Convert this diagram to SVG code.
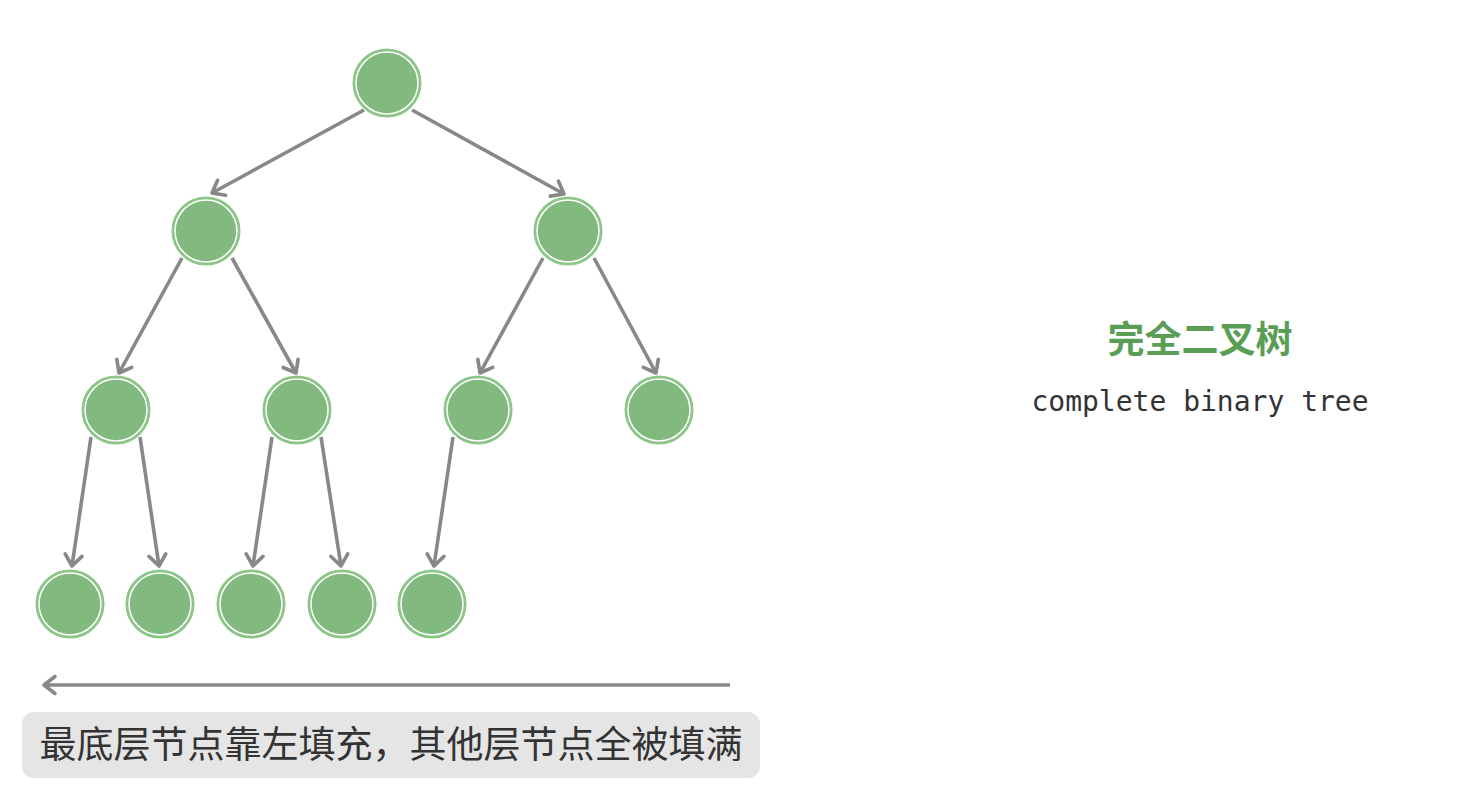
<svg xmlns="http://www.w3.org/2000/svg" width="1470" height="799" viewBox="0 0 1470 799">
<style>
.n{fill:#82b97e;stroke:#8cc887;stroke-width:2}
.r{fill:none;stroke:#ffffff;stroke-width:1.6}
.e{stroke:#888888;stroke-width:3.6;fill:none;marker-end:url(#ah)}
</style>
<defs>
<marker id="ah" markerWidth="8" markerHeight="8" refX="6" refY="4" orient="auto" markerUnits="userSpaceOnUse" viewBox="0 0 8 8" overflow="visible">
<path d="M-5,-4.5 L6,4 L-5,12.5" fill="none" stroke="#888888" stroke-width="3.6" stroke-linecap="round" stroke-linejoin="round"/>
</marker>
</defs>
<rect width="1470" height="799" fill="#ffffff"/>
<g id="connectors">
<line class="e" x1="364" y1="110" x2="212" y2="193"/>
<line class="e" x1="412" y1="110" x2="564" y2="194"/>
<line class="e" x1="182" y1="258" x2="119" y2="373"/>
<line class="e" x1="232" y1="258" x2="296" y2="373"/>
<line class="e" x1="543" y1="258" x2="480" y2="373"/>
<line class="e" x1="594" y1="258" x2="656" y2="373"/>
<line class="e" x1="91" y1="437" x2="72" y2="566"/>
<line class="e" x1="140" y1="437" x2="159" y2="566"/>
<line class="e" x1="272" y1="437" x2="253" y2="566"/>
<line class="e" x1="321" y1="437" x2="341" y2="566"/>
<line class="e" x1="453" y1="437" x2="434" y2="566"/>
<line class="e" x1="730" y1="685" x2="44" y2="685"/>
</g>
<g id="n0"><circle class="n" cx="387" cy="83" r="33.5"/><circle class="r" cx="387" cy="83" r="31"/></g>
<g id="n1"><circle class="n" cx="206" cy="231" r="33.5"/><circle class="r" cx="206" cy="231" r="31"/></g>
<g id="n2"><circle class="n" cx="568" cy="231" r="33.5"/><circle class="r" cx="568" cy="231" r="31"/></g>
<g id="n3"><circle class="n" cx="116" cy="410" r="33.5"/><circle class="r" cx="116" cy="410" r="31"/></g>
<g id="n4"><circle class="n" cx="297" cy="410" r="33.5"/><circle class="r" cx="297" cy="410" r="31"/></g>
<g id="n5"><circle class="n" cx="478" cy="410" r="33.5"/><circle class="r" cx="478" cy="410" r="31"/></g>
<g id="n6"><circle class="n" cx="659" cy="410" r="33.5"/><circle class="r" cx="659" cy="410" r="31"/></g>
<g id="n7"><circle class="n" cx="70" cy="604" r="33.5"/><circle class="r" cx="70" cy="604" r="31"/></g>
<g id="n8"><circle class="n" cx="160" cy="604" r="33.5"/><circle class="r" cx="160" cy="604" r="31"/></g>
<g id="n9"><circle class="n" cx="251" cy="604" r="33.5"/><circle class="r" cx="251" cy="604" r="31"/></g>
<g id="n10"><circle class="n" cx="342" cy="604" r="33.5"/><circle class="r" cx="342" cy="604" r="31"/></g>
<g id="n11"><circle class="n" cx="432" cy="604" r="33.5"/><circle class="r" cx="432" cy="604" r="31"/></g>
<g id="label">
<rect x="22" y="712" width="738" height="66" rx="12" fill="#e5e5e5"/>
<text x="391" y="758" text-anchor="middle" font-family="'Noto Sans CJK SC', sans-serif" font-size="37" fill="#333333">最底层节点靠左填充，其他层节点全被填满</text>
</g>
<g id="title">
<text x="1200" y="353" text-anchor="middle" font-family="'Noto Sans CJK SC', sans-serif" font-size="37" font-weight="bold" fill="#5a9e55">完全二叉树</text>
<text x="1200" y="411" text-anchor="middle" font-family="'DejaVu Sans Mono', monospace" font-size="28" fill="#333333">complete binary tree</text>
</g>
</svg>
